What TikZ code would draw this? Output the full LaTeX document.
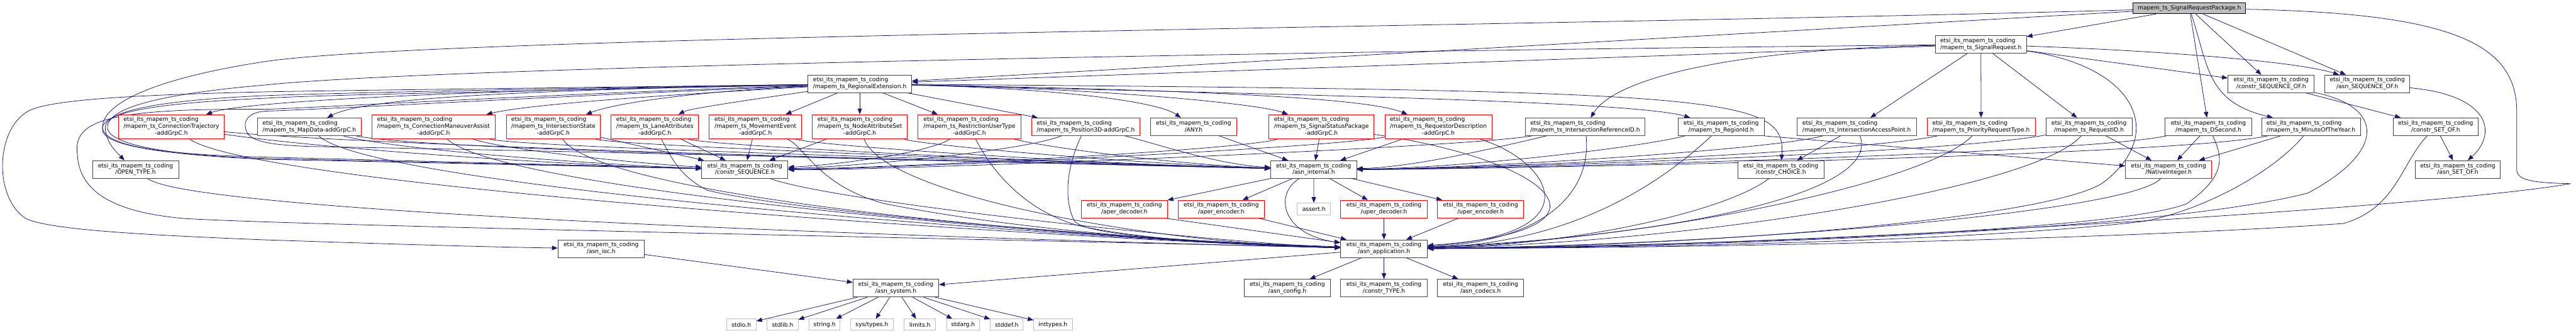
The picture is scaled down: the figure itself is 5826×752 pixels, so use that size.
\documentclass[tikz,border=0pt]{standalone}
\usepackage{fontspec}
\setmainfont{DejaVu Sans}
\usetikzlibrary{arrows.meta}
\definecolor{edgec}{RGB}{25,25,112}
\definecolor{nodeb}{RGB}{64,64,64}
\definecolor{greyf}{RGB}{191,191,191}
\pgfdeclarelayer{bg}
\pgfsetlayers{bg,main}
\newcommand\twol[2]{\begin{tabular}{@{}l@{}}#1\\\multicolumn{1}{@{}c@{}}{#2}\end{tabular}}
\newcommand\thrl[3]{\begin{tabular}{@{}l@{}}#1\\#2\\\multicolumn{1}{@{}c@{}}{#3}\end{tabular}}
\newcommand\pfx{etsi\_its\_mapem\_ts\_coding}
\tikzset{
  hbox/.style={draw=nodeb, fill=white, line width=1.2pt, inner sep=0pt, minimum height=40pt, text=black, font=\fontsize{13}{15.4}\selectfont},
  rbox/.style={hbox, draw=red},
  tall/.style={minimum height=55pt},
  sbox/.style={hbox, draw=greyf, minimum height=25pt},
  rootbox/.style={hbox, draw=black, fill=greyf, minimum height=25pt},
  dep/.style={draw=edgec, line width=1.1pt, -{Triangle[length=13pt,width=10pt]}},
}
\begin{document}
\begin{tikzpicture}[x=1pt,y=-1pt]
\useasboundingbox (0,0) rectangle (5826,752);
% row 0
\node[rootbox, minimum width=255pt] (P) at (4951.5,18.5) {mapem\_ts\_SignalRequestPackage.h};
% row 1
\node[hbox, minimum width=206pt] (SR) at (4480,100.5) {\twol{\pfx}{/mapem\_ts\_SignalRequest.h}};
% row 2
\node[hbox, minimum width=235pt] (RE) at (1944.5,189.5) {\twol{\pfx}{/mapem\_ts\_RegionalExtension.h}};
\node[hbox, minimum width=195pt] (CSO) at (5136.5,189.5) {\twol{\pfx}{/constr\_SEQUENCE\_OF.h}};
\node[hbox, minimum width=192pt] (ASO) at (5354,189.5) {\twol{\pfx}{/asn\_SEQUENCE\_OF.h}};
% row 3
\node[rbox, tall, minimum width=239pt] (CT) at (387.5,286.5) {\thrl{\pfx}{/mapem\_ts\_ConnectionTrajectory}{-addGrpC.h}};
\node[rbox, minimum width=235pt] (MD) at (699.5,286.5) {\twol{\pfx}{/mapem\_ts\_MapData-addGrpC.h}};
\node[rbox, tall, minimum width=279pt] (CMA) at (980.5,286.5) {\thrl{\pfx}{/mapem\_ts\_ConnectionManeuverAssist}{-addGrpC.h}};
\node[rbox, tall, minimum width=213pt] (IS) at (1251.5,286.5) {\thrl{\pfx}{/mapem\_ts\_IntersectionState}{-addGrpC.h}};
\node[rbox, tall, minimum width=198pt] (LA) at (1481,286.5) {\thrl{\pfx}{/mapem\_ts\_LaneAttributes}{-addGrpC.h}};
\node[rbox, tall, minimum width=209pt] (ME) at (1708.5,286.5) {\thrl{\pfx}{/mapem\_ts\_MovementEvent}{-addGrpC.h}};
\node[rbox, tall, minimum width=215pt] (NAS) at (1944.5,286.5) {\thrl{\pfx}{/mapem\_ts\_NodeAttributeSet}{-addGrpC.h}};
\node[rbox, tall, minimum width=233pt] (RUT) at (2192.5,286.5) {\thrl{\pfx}{/mapem\_ts\_RestrictionUserType}{-addGrpC.h}};
\node[rbox, minimum width=245pt] (PTD) at (2455.5,286.5) {\twol{\pfx}{/mapem\_ts\_Position3D-addGrpC.h}};
\node[rbox, minimum width=195pt] (ANY) at (2699.5,286.5) {\twol{\pfx}{/ANY.h}};
\node[rbox, tall, minimum width=237pt] (SSP) at (2988.5,286.5) {\thrl{\pfx}{/mapem\_ts\_SignalStatusPackage}{-addGrpC.h}};
\node[rbox, tall, minimum width=242pt] (RD) at (3253,286.5) {\thrl{\pfx}{/mapem\_ts\_RequestorDescription}{-addGrpC.h}};
\node[rbox, minimum width=270pt] (IRID) at (3585,286.5) {\twol{\pfx}{/mapem\_ts\_IntersectionReferenceID.h}};
\node[hbox, minimum width=195pt] (RGID) at (3892.5,286.5) {\twol{\pfx}{/mapem\_ts\_RegionId.h}};
\node[rbox, minimum width=270pt] (IAP) at (4199,286.5) {\twol{\pfx}{/mapem\_ts\_IntersectionAccessPoint.h}};
\node[rbox, minimum width=245pt] (PRT) at (4480.5,286.5) {\twol{\pfx}{/mapem\_ts\_PriorityRequestType.h}};
\node[hbox, minimum width=195pt] (RQID) at (4724.5,286.5) {\twol{\pfx}{/mapem\_ts\_RequestID.h}};
\node[hbox, minimum width=195pt] (DS) at (4994.5,286.5) {\twol{\pfx}{/mapem\_ts\_DSecond.h}};
\node[hbox, minimum width=223pt] (MOY) at (5226.5,286.5) {\twol{\pfx}{/mapem\_ts\_MinuteOfTheYear.h}};
\node[hbox, minimum width=193pt] (CSET) at (5508.5,286.5) {\twol{\pfx}{/constr\_SET\_OF.h}};
% row 4
\node[hbox, minimum width=195pt] (OT) at (306.5,383) {\twol{\pfx}{/OPEN\_TYPE.h}};
\node[hbox, minimum width=195pt] (CS) at (1684.5,383) {\twol{\pfx}{/constr\_SEQUENCE.h}};
\node[hbox, minimum width=194pt] (AI) at (2971,383) {\twol{\pfx}{/asn\_internal.h}};
\node[hbox, minimum width=195pt] (CC) at (4027.5,383) {\twol{\pfx}{/constr\_CHOICE.h}};
\node[rbox, minimum width=195pt] (NI) at (4904.5,383) {\twol{\pfx}{/NativeInteger.h}};
\node[hbox, minimum width=193pt] (ASET) at (5558.5,383) {\twol{\pfx}{/asn\_SET\_OF.h}};
% row 5
\node[rbox, minimum width=194pt] (APD) at (2543,472.5) {\twol{\pfx}{/aper\_decoder.h}};
\node[rbox, minimum width=194pt] (APE) at (2762,472.5) {\twol{\pfx}{/aper\_encoder.h}};
\node[sbox, minimum width=75pt, minimum height=26pt] (AS) at (2971.5,472) {assert.h};
\node[rbox, minimum width=196pt] (UPD) at (3130,472.5) {\twol{\pfx}{/uper\_decoder.h}};
\node[rbox, minimum width=195pt] (UPE) at (3348.5,472.5) {\twol{\pfx}{/uper\_encoder.h}};
% row 6
\node[hbox, minimum width=195pt] (IOC) at (1359.5,562) {\twol{\pfx}{/asn\_ioc.h}};
\node[hbox, minimum width=196pt] (AA) at (3130,562) {\twol{\pfx}{/asn\_application.h}};
% row 7
\node[hbox, minimum width=194pt] (SYS) at (2026,651) {\twol{\pfx}{/asn\_system.h}};
\node[hbox, minimum width=195pt] (CFG) at (2911.5,651) {\twol{\pfx}{/asn\_config.h}};
\node[rbox, minimum width=196pt] (CTY) at (3130,651) {\twol{\pfx}{/constr\_TYPE.h}};
\node[hbox, minimum width=195pt] (COD) at (3348.5,651) {\twol{\pfx}{/asn\_codecs.h}};
% row 8
\node[sbox, minimum width=67pt] (hstdio) at (1676.5,733.5) {stdio.h};
\node[sbox, minimum width=70pt] (hstdlib) at (1770,733.5) {stdlib.h};
\node[sbox, minimum width=70pt] (hstring) at (1865,733.5) {string.h};
\node[sbox, minimum width=96pt] (htypes) at (1972,733.5) {sys/types.h};
\node[sbox, minimum width=71pt] (hlimits) at (2080.5,733.5) {limits.h};
\node[sbox, minimum width=74pt] (hstdarg) at (2178,733.5) {stdarg.h};
\node[sbox, minimum width=74pt] (hstddef) at (2277,733.5) {stddef.h};
\node[sbox, minimum width=87pt] (hinttypes) at (2381.5,733.5) {inttypes.h};

\begin{pgfonlayer}{bg}
\fill[white] (0,0) rectangle (5826,752);
% ---- root
\draw[dep] (P) -- (SR);
\draw[dep] (P) -- (RE);
\draw[dep] (P) -- (DS);
\draw[dep] (P) .. controls (4995,150) and (4990,230) .. (MOY);
\draw[dep] (P) -- (CSO);
\draw[dep] (P) -- (ASO);
\draw[dep] (P) .. controls (3500,60) and (1000,80) .. (600,139) .. controls (330,180) and (228,240) .. (232,290) .. controls (240,335) and (400,350) .. (600,355) -- (CS);
\draw[dep] (P) .. controls (5550,30) and (5690,100) .. (5692,250) -- (5692,385) .. controls (5694,410) and (5740,413) .. (5814,415) .. controls (5500,470) and (4000,560) .. (AA);
% ---- SignalRequest
\draw[dep] (SR) -- (RE);
\draw[dep] (SR) .. controls (3900,112) and (3650,180) .. (IRID);
\draw[dep] (SR) -- (IAP);
\draw[dep] (SR) -- (PRT);
\draw[dep] (SR) -- (RQID);
\draw[dep] (SR) -- (CSO);
\draw[dep] (SR) .. controls (4900,115) and (5200,140) .. (ASO);
\draw[dep] (SR) .. controls (3000,115) and (1000,150) .. (600,192) .. controls (330,215) and (240,250) .. (243,290) .. controls (250,330) and (400,352) .. (600,358) -- (CS);
\draw[dep] (SR) .. controls (4830,150) and (4900,300) .. (4760,410) .. controls (4660,489) and (3900,556) .. (AA);
% ---- RegionalExtension
\draw[dep] (RE) .. controls (1200,200) and (560,225) .. (CT);
\draw[dep] (RE) .. controls (1100,205) and (820,225) .. (MD);
\draw[dep] (RE) .. controls (1500,215) and (1200,235) .. (CMA);
\draw[dep] (RE) .. controls (1600,205) and (1400,230) .. (IS);
\draw[dep] (RE) .. controls (1700,225) and (1560,245) .. (LA);
\draw[dep] (RE) -- (ME);
\draw[dep] (RE) -- (NAS);
\draw[dep] (RE) -- (RUT);
\draw[dep] (RE) -- (PTD);
\draw[dep] (RE) .. controls (2400,200) and (2620,230) .. (ANY);
\draw[dep] (RE) .. controls (2500,200) and (2850,235) .. (SSP);
\draw[dep] (RE) .. controls (2800,205) and (3100,225) .. (RD);
\draw[dep] (RE) .. controls (3000,215) and (3700,230) .. (RGID);
\draw[dep] (RE) .. controls (3900,205) and (4040,215) .. (CC);
\draw[dep] (RE) .. controls (1200,200) and (700,212) .. (600,216) .. controls (330,228) and (236,255) .. (238,290) .. controls (240,322) and (262,342) .. ([xshift=-25pt]OT.north);
\draw[dep] (RE) .. controls (1300,198) and (700,205) .. (580,208) .. controls (300,215) and (100,225) .. (59,254) .. controls (-12,300) and (-12,450) .. (59,494) .. controls (110,518) and (300,530) .. (600,542) .. controls (900,552) and (1100,558) .. (IOC);
\draw[dep] (RE) .. controls (1200,205) and (700,215) .. (600,222) .. controls (300,235) and (225,262) .. (232,295) .. controls (238,335) and (420,352) .. (600,360) -- (CS);
\draw[dep] (RE) .. controls (1300,210) and (700,244) .. (600,247) .. controls (230,244) and (165,275) .. (175,350) .. controls (180,430) and (250,480) .. (421,494) .. controls (700,510) and (2200,540) .. (AA);
\draw[dep] (RE) .. controls (1300,215) and (700,249) .. (600,251) .. controls (560,254) and (550,275) .. (556,292) .. controls (562,318) and (600,327) .. (700,331) .. controls (1500,345) and (2500,372) .. (AI);
% ---- to constr_SEQUENCE
\draw[dep] (CT) .. controls (800,345) and (1400,378) .. (CS);
\draw[dep] (MD) .. controls (900,340) and (1400,375) .. (CS);
\draw[dep] (CMA) .. controls (1150,340) and (1450,370) .. (CS);
\draw[dep] (IS) -- (CS);
\draw[dep] (LA) -- (CS);
\draw[dep] (ME) -- (CS);
\draw[dep] (NAS) -- (CS);
\draw[dep] (RUT) .. controls (2100,345) and (1900,372) .. (CS);
\draw[dep] (PTD) .. controls (2300,345) and (1900,378) .. (CS);
\draw[dep] (SSP) .. controls (2800,340) and (2000,380) .. (CS);
\draw[dep] (RD) .. controls (3000,335) and (2000,382) .. (CS);
\draw[dep] (IRID) .. controls (3300,335) and (2000,385) .. (CS);
% ---- to asn_internal
\draw[dep] (CT) .. controls (900,335) and (2500,372) .. (AI);
\draw[dep] (MD) .. controls (1000,345) and (2500,370) .. (AI);
\draw[dep] (CMA) .. controls (1200,335) and (2500,370) .. (AI);
\draw[dep] (IS) .. controls (1400,330) and (2500,370) .. (AI);
\draw[dep] (LA) .. controls (1600,330) and (2500,372) .. (AI);
\draw[dep] (ME) .. controls (1850,330) and (2500,372) .. (AI);
\draw[dep] (NAS) .. controls (2100,330) and (2600,372) .. (AI);
\draw[dep] (RUT) .. controls (2350,330) and (2650,372) .. (AI);
\draw[dep] (PTD) .. controls (2600,320) and (2750,372) .. (AI);
\draw[dep] (ANY) -- (AI);
\draw[dep] (SSP) -- (AI);
\draw[dep] (RD) -- (AI);
\draw[dep] (IRID) .. controls (3400,330) and (3200,378) .. (AI);
\draw[dep] (RGID) .. controls (3700,335) and (3300,380) .. (AI);
\draw[dep] (IAP) .. controls (4000,340) and (3300,382) .. (AI);
\draw[dep] (PRT) .. controls (4200,345) and (3300,382) .. (AI);
\draw[dep] (RQID) .. controls (4400,348) and (3300,382) .. (AI);
\draw[dep] (DS) .. controls (4700,350) and (3300,383) .. (AI);
\draw[dep] (MOY) .. controls (4900,355) and (3300,383) .. (AI);
% ---- to asn_application (left side)
\draw[dep] (CT) .. controls (600,430) and (2600,550) .. (AA);
\draw[dep] (MD) .. controls (850,430) and (2600,550) .. (AA);
\draw[dep] (CMA) .. controls (1150,440) and (2600,550) .. (AA);
\draw[dep] (IS) .. controls (1380,460) and (2600,548) .. (AA);
\draw[dep] (LA) .. controls (1520,360) and (1540,400) .. (1600,430) .. controls (1800,480) and (2600,545) .. (AA);
\draw[dep] (ME) .. controls (1820,330) and (1850,420) .. (2000,460) .. controls (2300,520) and (2700,550) .. (AA);
\draw[dep] (NAS) .. controls (2000,440) and (2600,550) .. (AA);
\draw[dep] (RUT) .. controls (2250,400) and (2330,480) .. (2440,510) .. controls (2600,545) and (2850,555) .. (AA);
\draw[dep] (PTD) .. controls (2420,360) and (2400,440) .. (2430,500) .. controls (2470,540) and (2800,548) .. (AA);
\draw[dep] (OT) .. controls (450,490) and (2500,548) .. (AA);
\draw[dep] (CS) .. controls (1900,460) and (2800,552) .. (AA);
\draw[dep] (AI) .. controls (2880,440) and (2900,530) .. (AA);
% ---- to asn_application (right side)
\draw[dep] (SSP) .. controls (3500,360) and (3700,520) .. (AA);
\draw[dep] (RD) .. controls (3500,360) and (3620,530) .. (AA);
\draw[dep] (IRID) .. controls (3600,430) and (3500,545) .. (AA);
\draw[dep] (RGID) .. controls (3750,420) and (3550,550) .. (AA);
\draw[dep] (CC) .. controls (3900,480) and (3550,555) .. (AA);
\draw[dep] (IAP) .. controls (4260,450) and (3700,540) .. (AA);
\draw[dep] (PRT) .. controls (4350,420) and (3700,545) .. (AA);
\draw[dep] (RQID) .. controls (4600,430) and (3800,550) .. (AA);
\draw[dep] (DS) .. controls (5030,360) and (5030,400) .. (4946,460) .. controls (4800,520) and (3900,555) .. (AA);
\draw[dep] (MOY) .. controls (5150,380) and (5000,470) .. (4850,500) .. controls (4500,540) and (3900,558) .. (AA);
\draw[dep] (NI) .. controls (4820,480) and (3900,555) .. (AA);
\draw[dep] (CSET) .. controls (5430,370) and (5420,470) .. (5300,505) .. controls (4800,540) and (3900,560) .. (AA);
\draw[dep] (CSO) .. controls (5390,240) and (5400,340) .. (5220,436) .. controls (4900,520) and (3900,558) .. (AA);
% ---- misc
\draw[dep] (IAP) -- (CC);
\draw[dep] (RGID.south east) -- (NI);
\draw[dep] (RQID) -- (NI);
\draw[dep] (DS) -- (NI);
\draw[dep] (MOY) -- (NI);
\draw[dep] (CSO) -- (CSET);
\draw[dep] (CSET) -- (ASET);
\draw[dep] (ASO) .. controls (5630,215) and (5650,300) .. (ASET);
\draw[dep] (AI) -- (AS);
\draw[dep] (AI) -- (APD);
\draw[dep] (AI) -- (APE);
\draw[dep] (AI) -- (UPD);
\draw[dep] (AI) -- (UPE);
\draw[dep] (UPD) -- (AA);
\draw[dep] (UPE) -- (AA);
\draw[dep] ([xshift=-5pt]APD.south east) -- (AA);
\draw[dep] (APE) -- (AA);
\draw[dep] (AA) -- (SYS);
\draw[dep] (AA) -- (CFG);
\draw[dep] (AA) -- (CTY);
\draw[dep] (AA) -- (COD);
\draw[dep] (IOC) -- (SYS);
\draw[dep] (SYS) -- (hstdio);
\draw[dep] (SYS) -- (hstdlib);
\draw[dep] (SYS) -- (hstring);
\draw[dep] (SYS) -- (htypes);
\draw[dep] (SYS) -- (hlimits);
\draw[dep] (SYS) -- (hstdarg);
\draw[dep] (SYS) -- (hstddef);
\draw[dep] (SYS) -- (hinttypes);
\end{pgfonlayer}
\end{tikzpicture}
\end{document}
